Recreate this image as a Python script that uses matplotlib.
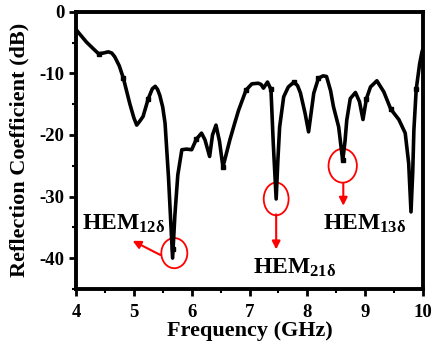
import matplotlib
matplotlib.use("Agg")
import matplotlib.pyplot as plt
from matplotlib.patches import Ellipse

freq = [4.00, 4.02, 4.10, 4.18, 4.30, 4.39, 4.47, 4.56, 4.62, 4.67, 4.75, 4.82, 4.93, 5.00,
        5.05, 5.10, 5.16, 5.25, 5.32, 5.37, 5.41, 5.45, 5.50, 5.54, 5.60, 5.67, 5.71, 5.76,
        5.83, 5.91, 6.00, 6.08, 6.17, 6.23, 6.31, 6.36, 6.42, 6.48, 6.54, 6.60, 6.66, 6.74,
        6.81, 6.94, 7.04, 7.15, 7.20, 7.24, 7.31, 7.37, 7.41, 7.46, 7.49, 7.52, 7.59,
        7.67, 7.77, 7.83, 7.88, 7.96, 8.02, 8.07, 8.11, 8.19, 8.27, 8.33, 8.40, 8.45, 8.54,
        8.61, 8.65, 8.68, 8.74, 8.83, 8.90, 8.96, 9.02, 9.09, 9.20, 9.32, 9.44,
        9.58, 9.69, 9.75, 9.79, 9.82, 9.84, 9.88, 9.94, 9.98, 10.00]
s11 = [-2.8, -3.1, -4.0, -4.9, -6.0, -6.8, -6.7, -6.5, -6.7, -7.3, -8.8, -10.8, -14.9, -17.2,
       -18.4, -17.8, -17.0, -14.1, -12.5, -12.1, -12.6, -13.6, -15.5, -18.1, -27.0, -40.0, -33.0, -26.5,
       -22.4, -22.3, -22.4, -20.7, -19.7, -20.8, -23.5, -20.0, -18.4, -21.0, -25.2, -23.0, -20.8, -18.2,
       -16.0, -12.7, -11.7, -11.6, -11.8, -12.4, -11.4, -12.6, -21.4, -30.4, -24.0, -18.7, -13.8,
       -12.2, -11.4, -12.0, -13.2, -16.5, -19.5, -16.0, -13.2, -10.8, -10.4, -10.5, -12.8, -15.4, -18.7,
       -24.2, -21.0, -17.6, -14.1, -13.1, -14.6, -17.5, -14.1, -12.2, -11.2, -13.0, -15.8,
       -17.5, -19.7, -24.6, -32.5, -26.0, -19.2, -12.6, -8.4, -6.5, -5.9]

# Square symbols on the trace
mark_f = [4.39, 4.82, 5.25, 5.67, 6.08, 6.54, 6.94, 7.37, 7.77, 8.19, 8.61, 9.02, 9.44, 9.88]
mark_s = [-6.8, -10.8, -14.1, -38.5, -20.7, -25.2, -12.7, -12.6, -11.4, -10.8, -24.0, -14.1, -15.8, -12.6]

# Mode annotations: circle centre, arrow start/end, label position
modes = ["HEM$_{12\\delta}$", "HEM$_{21\\delta}$", "HEM$_{13\\delta}$"]
circ_xy = [(5.70, -39.2), (7.46, -30.4), (8.61, -25.0)]
circ_wh = [(0.45, 4.9), (0.43, 5.3), (0.49, 5.5)]
arr_from = [(5.46, -39.5), (7.46, -32.9), (8.62, -27.9)]
arr_to = [(4.98, -37.2), (7.46, -38.6), (8.62, -31.5)]
lab_xy = [(4.83, -34.4), (7.77, -41.6), (8.98, -34.5)]

plt.rcParams['font.family'] = 'Liberation Serif'
plt.rcParams['font.weight'] = 'bold'
plt.rcParams['axes.unicode_minus'] = False
plt.rcParams['mathtext.fontset'] = 'custom'
plt.rcParams['mathtext.rm'] = 'Liberation Serif:bold'
plt.rcParams['mathtext.it'] = 'Liberation Serif:bold'
plt.rcParams['mathtext.bf'] = 'Liberation Serif:bold'

fig = plt.figure(figsize=(4.34, 3.48), dpi=100)
ax = fig.add_axes([0.175, 0.170, 0.800, 0.796])

ax.plot(freq, s11, color='black', linewidth=2.6, solid_joinstyle='round')
ax.plot(mark_f, mark_s, 's', color='black', markersize=3.5, linestyle='none')

for i in range(3):
    ax.add_patch(Ellipse(circ_xy[i], circ_wh[i][0], circ_wh[i][1], fill=False,
                         edgecolor='red', linewidth=1.3))
    ax.annotate('', xy=arr_to[i], xytext=arr_from[i],
                arrowprops=dict(arrowstyle='-|>', color='red', lw=1.5,
                                mutation_scale=12, shrinkA=0, shrinkB=0))
    ax.text(lab_xy[i][0], lab_xy[i][1], modes[i], fontsize=17, fontweight='bold',
            ha='center', va='center')

ax.set_xlim(4, 10)
ax.set_ylim(-45, 0)
ax.set_xticks(range(4, 11))
ax.set_yticks([-40, -30, -20, -10, 0])
ax.set_xticks([4.5 + i for i in range(6)], minor=True)
ax.set_yticks([-45, -35, -25, -15, -5], minor=True)
ax.tick_params(which='major', direction='out', length=5, width=2, labelsize=13.5)
ax.tick_params(which='minor', direction='out', length=3, width=1.5)
ax.tick_params(axis='x', pad=6)
for sp in ax.spines.values():
    sp.set_linewidth(2.8)

ax.set_xlabel('Frequency (GHz)', fontsize=16, fontweight='bold', labelpad=0)
ax.set_ylabel('Reflection Coefficient (dB)', fontsize=16, fontweight='bold', labelpad=7)

fig.savefig('out.png', dpi=100)
